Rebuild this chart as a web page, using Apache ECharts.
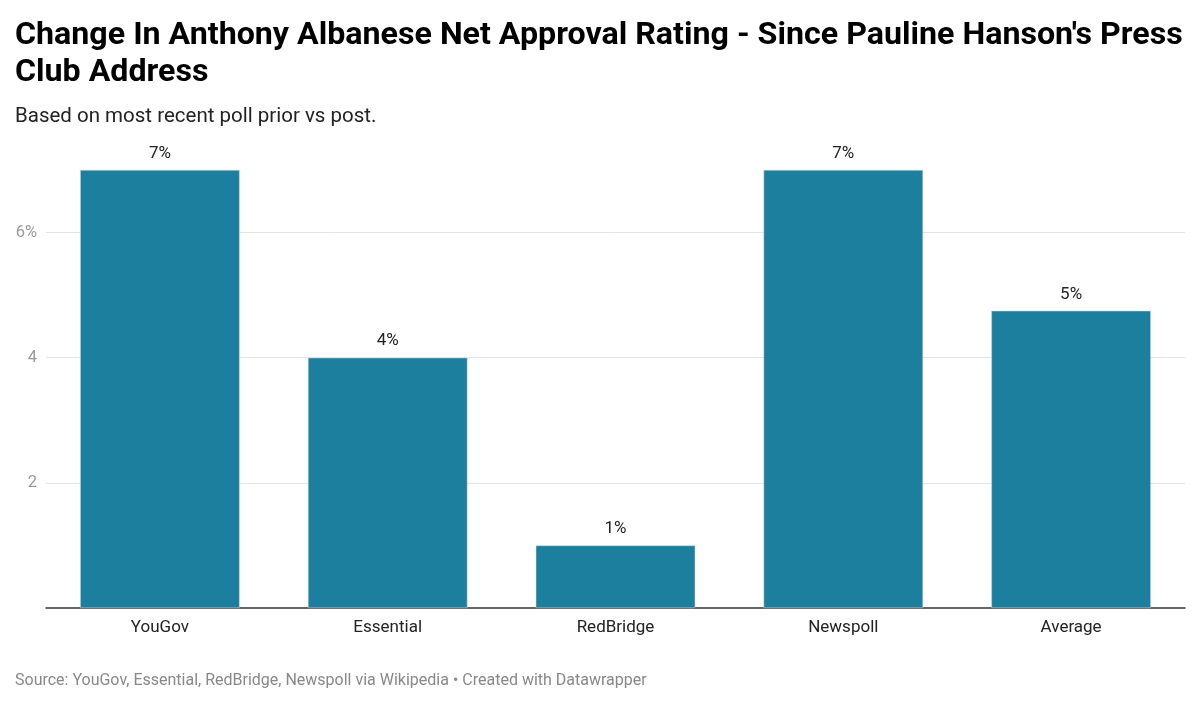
<!DOCTYPE html>
<html>
<head>
<meta charset="utf-8">
<script src="https://cdn.jsdelivr.net/npm/echarts@6/dist/echarts.min.js"></script>
<style>
  html, body { margin: 0; padding: 0; background: #fff; }
  #chart { width: 1200px; height: 704px; }
</style>
</head>
<body>
<div id="chart"></div>
<script>
// poll names and change in net approval (percentage points)
var pollsters = ['YouGov', 'Essential', 'RedBridge', 'Newspoll', 'Average']
var netChange = [7, 4, 1, 7, 4.75]

var chart = echarts.init(document.getElementById('chart'))
var option = {
  backgroundColor: '#fff',
  textStyle: { fontFamily: 'Roboto' },
  title: [
    {
      text: "Change In Anthony Albanese Net Approval Rating - Since Pauline Hanson's Press\nClub Address",
      left: 10, top: 12,
      textStyle: { fontFamily: 'Roboto', fontWeight: 'bold', fontSize: 32.2, lineHeight: 37, color: '#000' }
    },
    {
      text: 'Based on most recent poll prior vs post.',
      left: 10, top: 101,
      textStyle: { fontFamily: 'Roboto', fontWeight: 'normal', fontSize: 20.5, color: '#222' }
    },
    {
      text: 'Source: YouGov, Essential, RedBridge, Newspoll via Wikipedia • Created with Datawrapper',
      left: 10, top: 668,
      textStyle: { fontFamily: 'Roboto', fontWeight: 'normal', fontSize: 16, color: '#888' }
    }
  ],
  grid: { left: 46, right: 15, top: 170, bottom: 96 },
  xAxis: {
    type: 'category',
    data: pollsters,
    axisLine: { lineStyle: { color: '#333', width: 1.5 } },
    axisTick: { show: false },
    axisLabel: { color: '#222', fontSize: 17, margin: 11 }
  },
  yAxis: {
    type: 'value',
    min: 0, max: 7, interval: 2,
    axisLine: { show: false },
    axisTick: { show: false },
    splitLine: { showMinLine: false, showMaxLine: false, lineStyle: { color: '#e3e3e3' } },
    axisLabel: {
      color: '#999', fontSize: 16.5, margin: 9, padding: [3, 0, 0, 0],
      formatter: function (v) {
        if (v === 0 || v === 7) return ''
        return v === 6 ? '6%' : String(v)
      }
    }
  },
  series: [
    {
      type: 'bar',
      data: netChange,
      barCategoryGap: '30%',
      itemStyle: { color: '#1d7f9e', borderColor: '#d6d6d6', borderWidth: 0.5 },
      label: {
        show: true, position: 'top', distance: 8,
        color: '#222', fontSize: 17,
        formatter: function (p) { return Math.round(p.value) + '%' }
      }
    }
  ]
}
chart.setOption(option)
</script>
</body>
</html>
